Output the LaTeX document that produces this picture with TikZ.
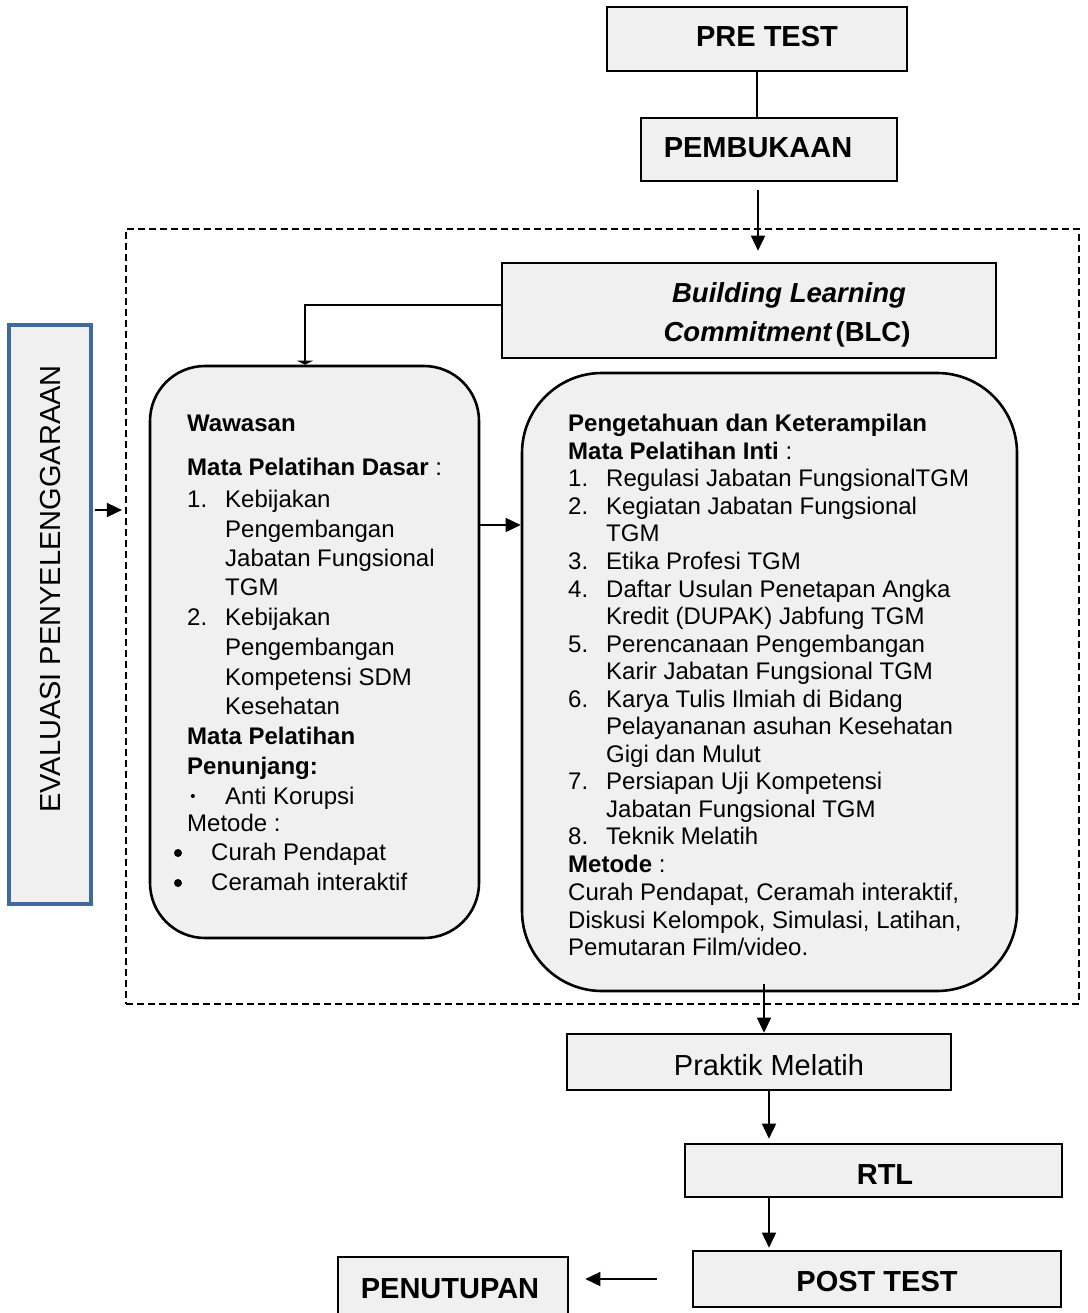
\documentclass[tikz,border=0pt]{standalone}
\usepackage{fontspec}
\setmainfont{Liberation Sans}
\usetikzlibrary{arrows.meta,calc}
\definecolor{boxfill}{RGB}{240,240,240}
\definecolor{evblue}{RGB}{65,105,155}
\begin{document}
\begin{tikzpicture}[x=1pt,y=-1pt,
 box/.style={draw=black, line width=2.6pt, fill=boxfill, inner sep=0pt},
 lab/.style={inner sep=0pt, text height=20.8pt, text depth=0pt, font=\fontsize{29}{29}\selectfont},
 big/.style={lab, font=\fontsize{29}{29}\selectfont\bfseries},
 tl/.style={inner sep=0pt, text height=17.2pt, text depth=0pt, anchor=west, font=\fontsize{24}{24}\selectfont},
 tlb/.style={tl, font=\fontsize{24}{24}\selectfont\bfseries},
 arr/.style={line width=1.6pt, -{Triangle[length=15pt,width=14pt]}},
 ln/.style={line width=1.6pt}]
\useasboundingbox (0,0) rectangle (1087,1313);

% dashed frame
\node[draw, line width=2.2pt, dash pattern=on 7pt off 4pt, minimum width=953, minimum height=775, inner sep=0pt] (frame) at (602.5,616.5) {};

% top boxes
\node[box, minimum width=300, minimum height=64] (pre) at (757,39) {};
\node[big] (pretxt) at (767,36) {PRE TEST};
\node[box, minimum width=256, minimum height=63] (pem) at (769,149.5) {};
\node[big] (pemtxt) at (758,147) {PEMBUKAAN};
\draw[ln] (pre.south) -- (pre.south |- pem.north);

% BLC
\node[box, minimum width=494, minimum height=95] (blc) at (749,310.5) {};
\node[lab, font=\fontsize{27.5}{27.5}\selectfont\bfseries\itshape] (blc1) at (789,292.5) {Building Learning};
\node[lab, font=\fontsize{27.5}{27.5}\selectfont\bfseries] (blc2) at (787,331) {\textit{Commitment}\kern3pt(BLC)};
\draw[arr, shorten <=8pt, shorten >=11pt] (pemtxt |- pem.south) -- (pemtxt |- blc.north);

% rounded boxes
\node[box, rounded corners=55pt, minimum width=329, minimum height=572] (wl) at (314.5,652) {};
\node[box, rounded corners=80pt, minimum width=495, minimum height=618] (wr) at (769.5,682) {};

\draw[ln, -{Triangle[length=4pt,width=16pt]}] ([yshift=5.5pt]blc.west) -| ([xshift=-9.5pt]wl.north);
\coordinate (a1) at (0,525);
\draw[arr] (wl.east |- a1) -- (wr.west |- a1);

% left box text
\node[tlb] (w0) at (187,423) {Wawasan};
\node[tl] (w1) at (187,467) {\textbf{Mata Pelatihan Dasar} :};
\node[tl] (n1) at (187,499) {1.};
\node[tl] (n2) at (187,617) {2.};
\foreach \yy/\tt [count=\i] in {499/Kebijakan, 529/Pengembangan, 558/Jabatan Fungsional, 587/TGM,
  617/Kebijakan, 647/Pengembangan, 677/Kompetensi SDM, 706/Kesehatan, 796/Anti Korupsi}
  \node[tl] (wl\i) at (225,\yy) {\tt};
\node[tlb] (w2) at (187,736) {Mata Pelatihan};
\node[tlb] (w3) at (187,766) {Penunjang:};
\node[inner sep=0pt, font=\fontsize{15}{15}\selectfont] (b0) at (193,798) {•};
\node[tl] (w4) at (187,823) {Metode :};
\node[circle, fill=black, inner sep=0pt, minimum size=8pt] (b1) at (178,853) {};
\node[circle, fill=black, inner sep=0pt, minimum size=8pt] (b2) at (178,883) {};
\node[tl] (w5) at (211,852) {Curah Pendapat};
\node[tl] (w6) at (211,882) {Ceramah interaktif};

% right box text
\node[tlb] (r0) at (568,423) {Pengetahuan dan Keterampilan};
\node[tl] (r1) at (568,450.5) {\textbf{Mata Pelatihan Inti} :};
\foreach \yy/\nn [count=\i] in {478/1., 505.5/2., 560.5/3., 588.5/4., 643.5/5., 698.5/6., 781/7., 836/8.}
  \node[tl] (rn\i) at (568,\yy) {\nn};
\foreach \yy/\tt [count=\i] in {478/Regulasi Jabatan FungsionalTGM, 505.5/Kegiatan Jabatan Fungsional, 533/TGM,
  560.5/Etika Profesi TGM, 588.5/Daftar Usulan Penetapan Angka, 616/Kredit (DUPAK) Jabfung TGM,
  643.5/Perencanaan Pengembangan, 671/Karir Jabatan Fungsional TGM, 698.5/Karya Tulis Ilmiah di Bidang,
  726/Pelayananan asuhan Kesehatan, 753.5/Gigi dan Mulut, 781/Persiapan Uji Kompetensi,
  808.5/Jabatan Fungsional TGM, 836/Teknik Melatih}
  \node[tl] (rt\i) at (606,\yy) {\tt};
\node[tl] (r2) at (568,863.5) {\textbf{Metode} :};
\node[tl] (r3) at (568,891.5) {Curah Pendapat, Ceramah interaktif,};
\node[tl] (r4) at (568,919.5) {Diskusi Kelompok, Simulasi, Latihan,};
\node[tl] (r5) at (568,947) {Pemutaran Film/video.};

% evaluasi
\node[draw=evblue, line width=4pt, fill=boxfill, minimum width=82, minimum height=579, inner sep=0pt] (ev) at (50,614.5) {};
\node[lab, rotate=90] (evtxt) at (50,589) {EVALUASI PENYELENGGARAAN};
\coordinate (a2) at (0,510);
\draw[arr, shorten <=2pt, shorten >=3pt] (ev.east |- a2) -- (frame.west |- a2);

% bottom boxes
\node[box, minimum width=384, minimum height=56] (prak) at (759,1062) {};
\node[lab] (praktxt) at (769,1065) {Praktik Melatih};
\node[box, minimum width=377, minimum height=53] (rtl) at (873.5,1170.5) {};
\node[big] (rtltxt) at (885,1174) {RTL};
\node[box, minimum width=368, minimum height=56] (post) at (877,1279) {};
\node[big] (posttxt) at (877,1281) {POST TEST};
\node[box, minimum width=230, minimum height=73] (penut) at (453,1293.5) {};
\node[big] (penuttxt) at (450,1288) {PENUTUPAN};

\coordinate (a3) at (764,0);
\draw[arr] ([yshift=8pt]wr.south -| a3) -- (prak.north -| a3);
\draw[arr, shorten >=4pt] (prak.south -| praktxt) -- (rtl.north -| praktxt);
\draw[arr, shorten >=2pt] (rtl.south -| praktxt) -- (post.north -| praktxt);
\draw[arr, shorten <=35pt, shorten >=16pt] (post.west) -- (penut.east |- post.west);
\end{tikzpicture}
\end{document}
